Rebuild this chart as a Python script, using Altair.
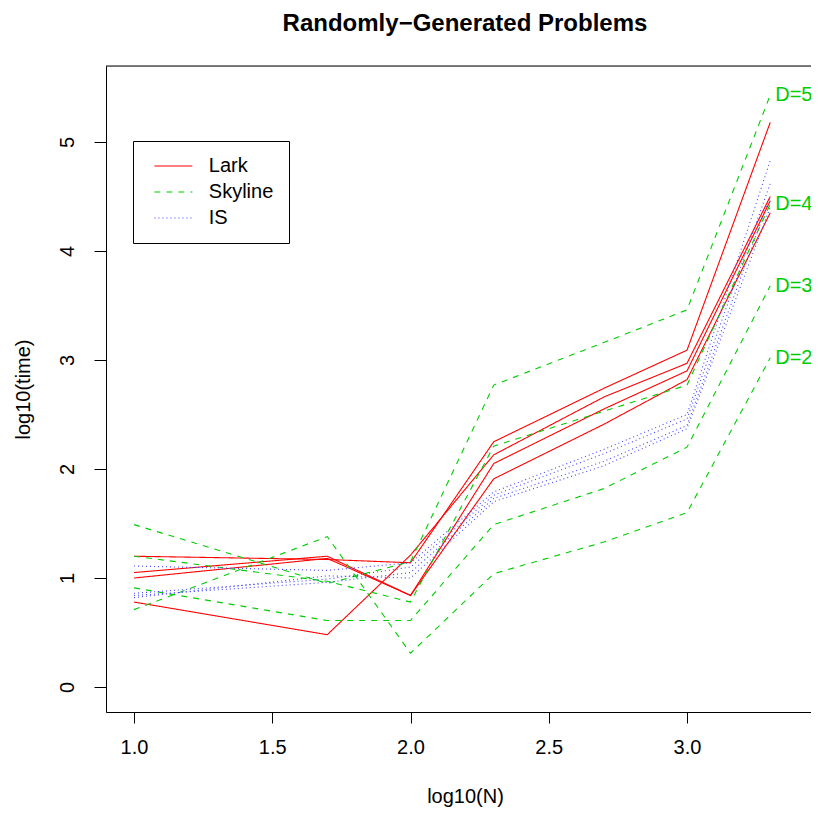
import altair as alt
import pandas as pd

# x positions: log10(N) for N = 10, 50, 100, 200, 500, 1000, 2000
log_n = [1.0, 1.699, 2.0, 2.301, 2.699, 3.0, 3.301]
dims = [5, 4, 3, 2]
methods = ["Lark", "Skyline", "IS"]
method_colors = ["#FF0000", "#00CD00", "#4444FF"]
method_dashes = [[1, 0], [6, 6], [1, 3]]

# Lark (solid red)
lark_d5 = [1.20, 1.17, 1.14, 2.25, 2.74, 3.09, 5.18]
lark_d4 = [0.78, 0.48, 1.21, 2.13, 2.66, 2.97, 4.50]
lark_d3 = [1.05, 1.20, 0.84, 2.05, 2.55, 2.90, 4.46]
lark_d2 = [1.00, 1.18, 0.84, 1.91, 2.41, 2.82, 4.35]

# Skyline (dashed green)
sky_d5 = [1.49, 0.95, 1.15, 2.77, 3.16, 3.46, 5.43]
sky_d4 = [1.20, 0.97, 0.78, 2.21, 2.53, 2.77, 4.43]
sky_d3 = [0.91, 0.61, 0.61, 1.49, 1.82, 2.20, 3.68]
sky_d2 = [0.71, 1.38, 0.31, 1.04, 1.33, 1.60, 3.02]

# IS (dotted blue)
is_d5 = [1.11, 1.07, 1.14, 1.79, 2.18, 2.50, 4.83]
is_d4 = [0.86, 0.99, 1.10, 1.76, 2.14, 2.46, 4.62]
is_d3 = [0.84, 0.96, 1.05, 1.73, 2.07, 2.40, 4.50]
is_d2 = [0.82, 1.02, 1.00, 1.70, 2.03, 2.37, 4.40]

series = {
    "Lark": [lark_d5, lark_d4, lark_d3, lark_d2],
    "Skyline": [sky_d5, sky_d4, sky_d3, sky_d2],
    "IS": [is_d5, is_d4, is_d3, is_d2],
}

rows = []
for m in methods:
    for d, vals in zip(dims, series[m]):
        for i, (xv, yv) in enumerate(zip(log_n, vals)):
            rows.append({"method": m, "D": d, "series": f"{m}-{d}", "x": xv, "y": yv, "idx": i})
df = pd.DataFrame(rows)

labels = pd.DataFrame({
    "x": [log_n[-1]] * 4,
    "y": [v[-1] for v in series["Skyline"]],
    "text": [f"D={d}" for d in dims],
})

FONT = "Liberation Sans"
xscale = alt.Scale(domain=[0.8987, 3.4484], nice=False, zero=False)
yscale = alt.Scale(domain=[-0.229, 5.697], nice=False, zero=False)

legend_kw = dict(
    orient="none", legendX=27, legendY=75, title=None,
    strokeColor="black", fillColor="white", padding=15,
    symbolType="M-2.5,0H2.5", symbolSize=231, symbolStrokeWidth=1.1,
    symbolOffset=15.4, labelOffset=25.4, rowPadding=6,
    labelFontSize=20, labelFont=FONT, labelColor="black",
)

lines = alt.Chart(df).mark_line(strokeWidth=1.1).encode(
    x=alt.X("x:Q", scale=xscale, axis=alt.Axis(
        values=[1.0, 1.5, 2.0, 2.5, 3.0], format=".1f", grid=False,
        tickSize=11, tickColor="black", domainColor="black",
        labelFontSize=20, labelFont=FONT, labelColor="black",
        labelBaseline="middle", labelPadding=24, labelFlush=False,
        title="log10(N)", titleFontSize=20, titleFont=FONT,
        titleFontWeight="normal", titleColor="black",
        titleX=359, titleY=84, titleBaseline="middle", titleAlign="center")),
    y=alt.Y("y:Q", scale=yscale, axis=alt.Axis(
        values=[0, 1, 2, 3, 4, 5], format="d", grid=False,
        tickSize=12, tickColor="black", domainColor="black",
        labelFontSize=20, labelFont=FONT, labelColor="black",
        labelAngle=270, labelAlign="center", labelBaseline="middle",
        labelPadding=27,
        title="log10(time)", titleFontSize=20, titleFont=FONT,
        titleFontWeight="normal", titleColor="black", titleAngle=270,
        titleX=-83, titleY=323, titleBaseline="middle", titleAlign="center")),
    color=alt.Color("method:N", scale=alt.Scale(domain=methods, range=method_colors),
                    legend=alt.Legend(**legend_kw)),
    strokeDash=alt.StrokeDash("method:N", scale=alt.Scale(domain=methods, range=method_dashes),
                              legend=alt.Legend(**legend_kw)),
    detail="series:N",
    order="idx:Q",
)

text = alt.Chart(labels).mark_text(
    align="left", baseline="middle", dx=5, fontSize=20, font=FONT, color="#00CD00"
).encode(x=alt.X("x:Q", scale=xscale), y=alt.Y("y:Q", scale=yscale), text="text:N")

top_border = alt.Chart(pd.DataFrame({"a": [0]})).mark_rule(color="black", strokeWidth=1).encode(
    y=alt.value(0)
)

chart = alt.layer(lines, text, top_border).properties(
    width=705, height=646,
    padding={"left": 98, "top": 58, "right": 0, "bottom": 96},
    autosize=alt.AutoSizeParams(type="none"),
    title=alt.Title("Randomly\u2212Generated Problems", fontSize=24, font=FONT,
                    fontWeight="bold", color="black", anchor="middle", offset=30, dx=6.5),
).configure_view(stroke=None).configure(background="white")

chart.save("out.html", embed_options={"renderer": "svg", "actions": False})
